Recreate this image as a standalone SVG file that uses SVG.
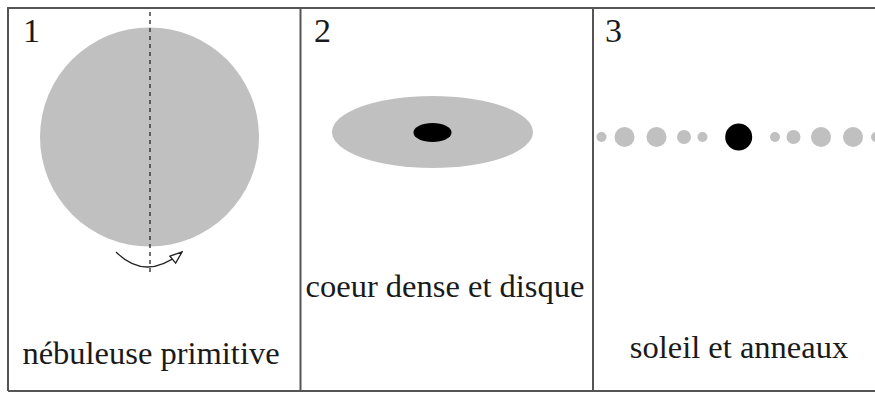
<svg xmlns="http://www.w3.org/2000/svg" width="875" height="393" viewBox="0 0 875 393">
  <defs>
    <style>
      .frame { fill: none; stroke: #555; stroke-width: 2; }
      .gas { fill: #c0c0c0; }
      .core { fill: #000; }
      .num { font-family: "Liberation Serif", "Times New Roman", serif; font-size: 34px; fill: #1a1a1a; }
      .label { font-family: "Liberation Serif", "Times New Roman", serif; font-size: 32.5px; fill: #1a1a1a; text-anchor: middle; }
    </style>
    <marker id="open-head" viewBox="0 0 14 12" refX="13" refY="6" markerWidth="14" markerHeight="12" markerUnits="userSpaceOnUse" orient="auto">
      <path d="M1,1.5 L13,6 L1,10.5 Z" fill="#fff" stroke="#222" stroke-width="1.3"/>
    </marker>
  </defs>

  <rect width="875" height="393" fill="#fff"/>

  <!-- outer frame and panel dividers -->
  <g id="frame">
    <path class="frame" d="M8,391 V8 H876"/>
    <line class="frame" x1="8" y1="391" x2="876" y2="391" stroke="#aaa"/>
    <line class="frame" x1="300.5" y1="8" x2="300.5" y2="391"/>
    <line class="frame" x1="593" y1="8" x2="593" y2="391"/>
  </g>

  <!-- panel 1: primitive nebula with rotation axis -->
  <g id="panel1">
    <text class="num" x="23" y="42">1</text>
    <circle class="gas" cx="149.5" cy="137" r="109.5"/>
    <line x1="150" y1="12" x2="150" y2="272" stroke="#222" stroke-width="1.3" stroke-dasharray="4,4"/>
    <text class="label" x="151" y="364">nébuleuse primitive</text>
  </g>

  <!-- rotation arrow -->
  <g id="connectors">
    <path d="M116,252 Q146,282 182,252" fill="none" stroke="#222" stroke-width="1.3" marker-end="url(#open-head)"/>
  </g>

  <!-- panel 2: dense core and disc -->
  <g id="panel2">
    <text class="num" x="314" y="42">2</text>
    <ellipse class="gas" cx="432.5" cy="132" rx="100.5" ry="36"/>
    <ellipse class="core" cx="432.5" cy="132.5" rx="19" ry="9.5"/>
    <text class="label" x="445" y="297">coeur dense et disque</text>
  </g>

  <!-- panel 3: sun and rings -->
  <g id="panel3">
    <text class="num" x="605" y="42">3</text>
    <circle class="gas" cx="601.5" cy="137" r="5"/>
    <circle class="gas" cx="624.5" cy="137" r="10"/>
    <circle class="gas" cx="656.5" cy="137" r="10"/>
    <circle class="gas" cx="684" cy="137" r="7"/>
    <circle class="gas" cx="702.5" cy="137" r="5"/>
    <circle class="core" cx="738.7" cy="137" r="13.5"/>
    <circle class="gas" cx="775" cy="137" r="5"/>
    <circle class="gas" cx="793.5" cy="137" r="7"/>
    <circle class="gas" cx="821" cy="137" r="10"/>
    <circle class="gas" cx="853" cy="137" r="10"/>
    <circle class="gas" cx="876" cy="137" r="5"/>
    <text class="label" x="739" y="358">soleil et anneaux</text>
  </g>
</svg>
